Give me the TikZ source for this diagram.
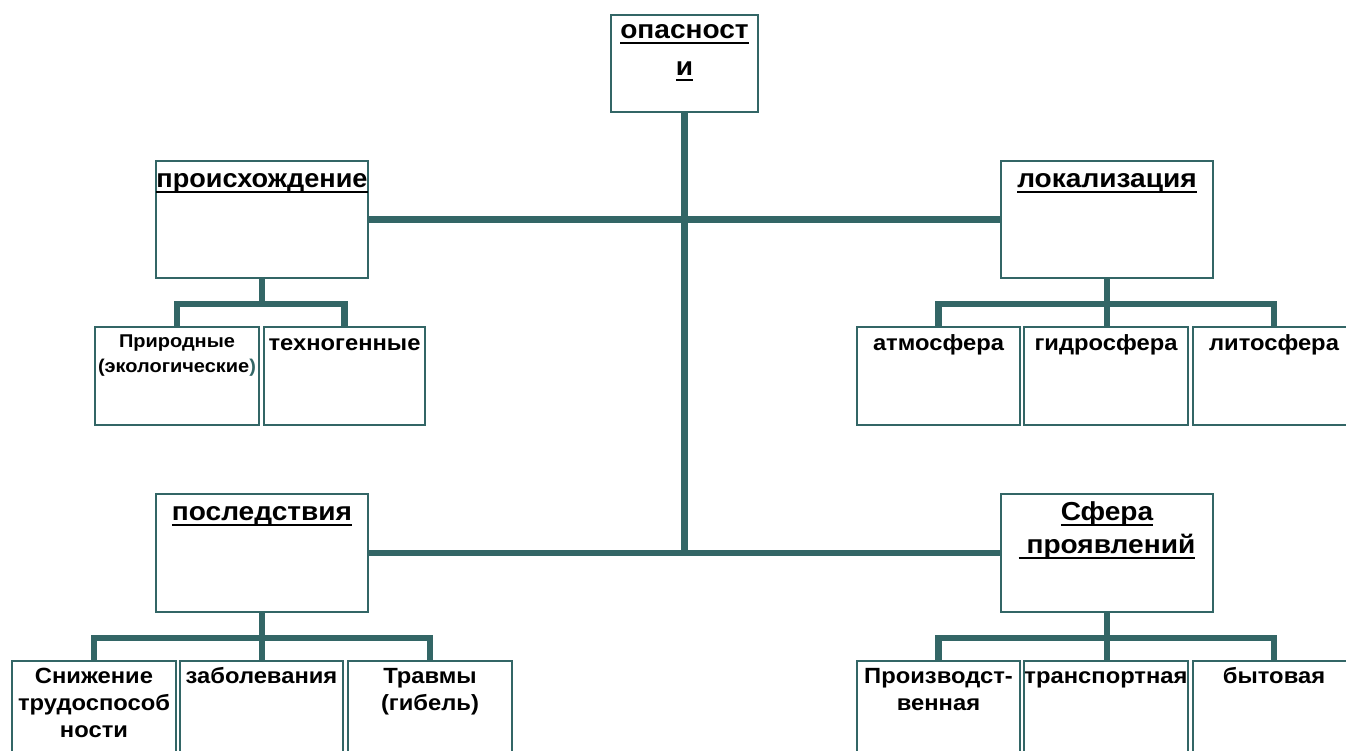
\documentclass[tikz,border=0pt]{standalone}
\usepackage{fontspec}
\setmainfont{Liberation Sans}[FakeStretch=1.08]
\definecolor{tealc}{RGB}{51,102,102}
\newcommand\ulx[1]{\setbox0\hbox{#1}\rlap{\rule[-6pt]{\wd0}{2.6pt}}\box0}
\newcommand\strutT{\rule{0pt}{20pt}}
\tikzset{
  box/.style={draw=tealc, line width=2pt, rectangle, inner sep=0pt, anchor=north west},
  conn/.style={draw=tealc, line width=6.5pt, line join=miter},
  hd/.style={anchor=north, inner sep=0pt, align=center, font=\bfseries\fontsize{26}{33}\selectfont},
  sb/.style={anchor=north, inner sep=0pt, align=center, font=\bfseries\fontsize{22}{27}\selectfont},
}
\begin{document}
\begin{tikzpicture}[x=1pt,y=-1pt]
\useasboundingbox (0,0) rectangle (1346,751);
\fill[white] (0,0) rectangle (1346,751);
\clip (0,0) rectangle (1346,751);
% boxes
\node[box, minimum width=147, minimum height=97] (top) at (610,14) {};
\node[box, minimum width=212, minimum height=117] (orig) at (155,160) {};
\node[box, minimum width=212, minimum height=117] (loc) at (1000,160) {};
\node[box, minimum width=212, minimum height=118] (cons) at (155,493) {};
\node[box, minimum width=212, minimum height=118] (sph) at (1000,493) {};
\node[box, minimum width=164, minimum height=98] (nat) at (94,326) {};
\node[box, minimum width=161, minimum height=98] (tech) at (263,326) {};
\node[box, minimum width=163, minimum height=98] (atm) at (856,326) {};
\node[box, minimum width=164, minimum height=98] (hyd) at (1023,326) {};
\node[box, minimum width=162, minimum height=98] (lit) at (1192,326) {};
\node[box, minimum width=164, minimum height=120] (red) at (11,660) {};
\node[box, minimum width=163, minimum height=120] (dis) at (179,660) {};
\node[box, minimum width=164, minimum height=120] (inj) at (347,660) {};
\node[box, minimum width=163, minimum height=120] (ind) at (856,660) {};
\node[box, minimum width=164, minimum height=120] (trn) at (1023,660) {};
\node[box, minimum width=162, minimum height=120] (dom) at (1192,660) {};
% connectors
\draw[conn] (top.south) -- (top.south |- cons.east);
\draw[conn] (orig.east) -- (loc.west);
\draw[conn] (cons.east) -- (sph.west);
\draw[conn] (orig.south) -- ([yshift=-25pt]orig.south);
\draw[conn] (nat.north) |- ([yshift=-25pt]orig.south) -| (tech.north);
\draw[conn] (loc.south) -- (loc.south |- hyd.north);
\draw[conn] (atm.north) |- ([yshift=-25pt]loc.south) -| (lit.north);
\draw[conn] (cons.south) -- (cons.south |- dis.north);
\draw[conn] (red.north) |- ([yshift=-25pt]cons.south) -| (inj.north);
\draw[conn] (sph.south) -- (sph.south |- trn.north);
\draw[conn] (ind.north) |- ([yshift=-25pt]sph.south) -| (dom.north);
% texts
\node[hd, font=\bfseries\fontsize{26}{37}\selectfont] (ttop) at ([yshift=-4pt]top.north) {\strutT\ulx{опасност}\\\ulx{и}};
\node[hd] (torig) at ([yshift=-7pt]orig.north) {\strutT\scalebox{0.965}[1]{\ulx{происхождение}}};
\node[hd] (tloc) at ([yshift=-7pt]loc.north) {\strutT\ulx{локализация}};
\node[hd] (tcons) at ([yshift=-7pt]cons.north) {\strutT\ulx{последствия}};
\node[hd] (tsph) at ([yshift=-7pt]sph.north) {\strutT\ulx{Сфера}\\\ulx{\ проявлений}};
\node[sb, font=\bfseries\fontsize{18.5}{25}\selectfont] (tnat) at ([yshift=-1pt]nat.north) {\strutT Природные\\(экологические\textcolor{tealc}{)}};
\node[sb] (ttech) at ([yshift=-4pt]tech.north) {\strutT техногенные};
\node[sb] (tatm) at ([yshift=-4pt]atm.north) {\strutT атмосфера};
\node[sb] (thyd) at ([yshift=-4pt]hyd.north) {\strutT гидросфера};
\node[sb] (tlit) at ([yshift=-4pt]lit.north) {\strutT литосфера};
\node[sb] (tred) at ([yshift=-3pt]red.north) {\strutT Снижение\\трудоспособ\\ности};
\node[sb] (tdis) at ([yshift=-3pt]dis.north) {\strutT заболевания};
\node[sb] (tinj) at ([yshift=-3pt]inj.north) {\strutT Травмы\\(гибель)};
\node[sb] (tind) at ([yshift=-3pt]ind.north) {\strutT Производст-\\венная};
\node[sb] (ttrn) at ([yshift=-3pt]trn.north) {\strutT транспортная};
\node[sb] (tdom) at ([yshift=-3pt]dom.north) {\strutT бытовая};
\end{tikzpicture}
\end{document}
